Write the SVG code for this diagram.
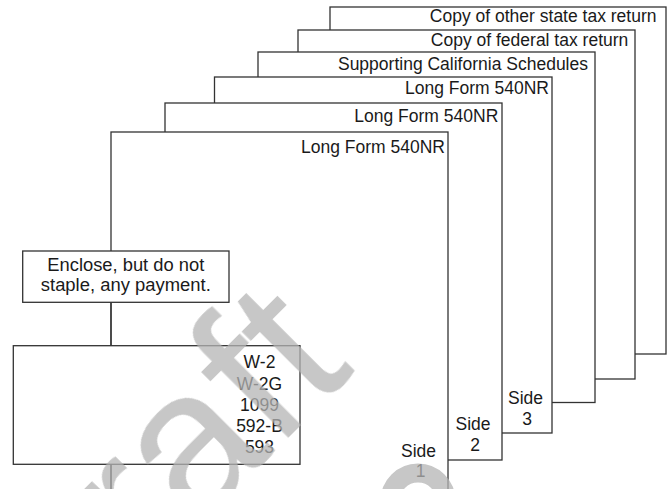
<svg xmlns="http://www.w3.org/2000/svg" width="672" height="489" viewBox="0 0 672 489">
<style>
.page{fill:#fff;stroke:#333;stroke-width:1.3}
.box{fill:#fff;stroke:#333;stroke-width:1.3}
.conn{stroke:#333;stroke-width:1.3;fill:none}
text{font-family:"Liberation Sans",Arial,sans-serif;font-size:17.5px;fill:#1a1a1a}
.r{text-anchor:end}
.m{text-anchor:middle}
.wm{font-family:"Liberation Sans",Arial,sans-serif;font-size:205px;fill:#b4b4b4}
</style>
<rect width="672" height="489" fill="#fff"/>
<g id="page6"><rect class="page" x="330" y="7" width="336" height="347"/><text class="r" x="656.5" y="22">Copy of other state tax return</text></g>
<g id="page5"><rect class="page" x="298" y="30" width="337" height="349"/><text class="r" x="628.3" y="46">Copy of federal tax return</text></g>
<g id="page4"><rect class="page" x="258" y="52" width="337" height="350.5"/><text class="r" x="588" y="69.5">Supporting California Schedules</text></g>
<g id="page3"><rect class="page" x="214.5" y="77" width="337.5" height="356"/><text class="r" x="549" y="94">Long Form 540NR</text><text class="m" x="525.5" y="404">Side</text><text class="m" x="527" y="425">3</text></g>
<g id="page2"><rect class="page" x="165" y="103" width="337" height="357"/><text class="r" x="498.3" y="121.7">Long Form 540NR</text><text class="m" x="473" y="430">Side</text><text class="m" x="475" y="451">2</text></g>
<g id="page1"><rect class="page" x="111" y="132" width="337" height="400"/><text class="r" x="445" y="153.3">Long Form 540NR</text><text class="m" x="418.5" y="456.7">Side</text><text class="m" x="420.5" y="477">1</text></g>
<g id="connectors"><line class="conn" x1="111" y1="302" x2="111" y2="346"/><line class="conn" x1="111" y1="464" x2="111" y2="489"/></g>
<g id="payment"><rect class="box" x="22.7" y="251" width="206.3" height="51.3"/><text class="m" x="125.8" y="270.7" textLength="157" lengthAdjust="spacingAndGlyphs">Enclose, but do not</text><text class="m" x="125.8" y="290.7" textLength="170" lengthAdjust="spacingAndGlyphs">staple, any payment.</text></g>
<g id="attachments"><rect class="box" x="13.3" y="345.7" width="286.7" height="118.6"/><text class="m" x="259.5" y="368.3">W-2</text><text class="m" x="259.5" y="390">W-2G</text><text class="m" x="259.5" y="411">1099</text><text class="m" x="259.5" y="432.3">592-B</text><text class="m" x="259.5" y="453.3">593</text></g>
<g id="watermark" opacity="0.75"><text class="wm" transform="translate(42,684) rotate(-45)">Draft</text><circle cx="418" cy="501" r="28" fill="none" stroke="#b4b4b4" stroke-width="19"/></g>
</svg>
